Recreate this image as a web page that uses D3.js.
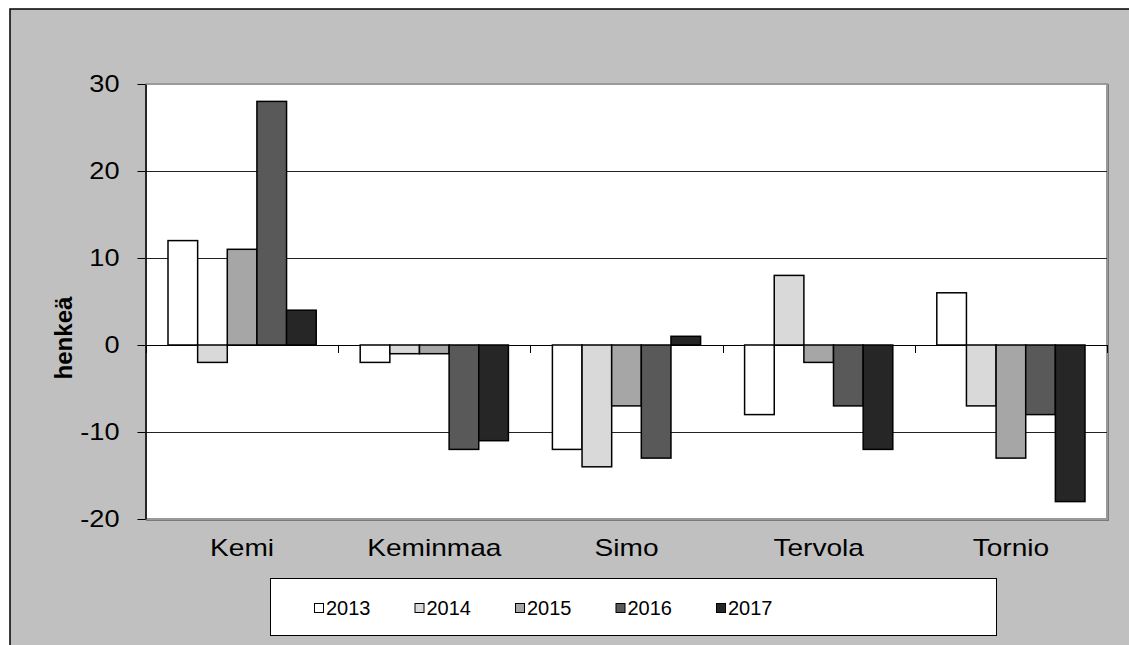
<!DOCTYPE html>
<html>
<head>
<meta charset="utf-8">
<script src="https://cdn.jsdelivr.net/npm/d3@7"></script>
<style>
  body { margin: 0; background: #fff; }
  text { font-family: "Liberation Sans", Arial, sans-serif; fill: #000; }
</style>
</head>
<body>
<svg width="1129" height="645"></svg>
<script>
var kunnat = ["Kemi", "Keminmaa", "Simo", "Tervola", "Tornio"];
var vuodet = ["2013", "2014", "2015", "2016", "2017"];
var v2013 = [12, -2, -12, -8, 6];
var v2014 = [-2, -1, -14, 8, -7];
var v2015 = [11, -1, -7, -2, -13];
var v2016 = [28, -12, -13, -7, -8];
var v2017 = [4, -11, 1, -12, -18];
var yTicks = [-20, -10, 0, 10, 20, 30];
var colors = ["#ffffff", "#d9d9d9", "#a6a6a6", "#595959", "#262626"];

var series = [v2013, v2014, v2015, v2016, v2017];
var data = kunnat.map(function(k, i) {
  return { kunta: k, values: vuodet.map(function(v, j) { return { year: v, value: series[j][i] }; }) };
});

var svg = d3.select("svg");

// outer frame
svg.append("rect").attr("x", 10).attr("y", 9).attr("width", 1125).attr("height", 645)
  .attr("fill", "#c0c0c0").attr("stroke", "#000").attr("stroke-width", 1.5);

var pLeft = 146, pTop = 84, pRight = 1107, pBottom = 519;

var x0 = d3.scaleBand().domain(kunnat).range([pLeft, pRight]);
var x1 = d3.scaleBand().domain(vuodet).range([22, x0.bandwidth() - 22]);
var y = d3.scaleLinear().domain([-20, 30]).range([pBottom, pTop]);

// plot area
svg.append("rect").attr("x", pLeft + 1).attr("y", pTop + 1).attr("width", pRight - pLeft).attr("height", pBottom - pTop)
  .attr("fill", "none").attr("stroke", "#7a7a7a").attr("stroke-width", 2);
svg.append("rect").attr("x", pLeft).attr("y", pTop).attr("width", pRight - pLeft).attr("height", pBottom - pTop)
  .attr("fill", "#fff").attr("stroke", "#9a9a9a").attr("stroke-width", 2);

// gridlines
svg.append("g").selectAll("line")
  .data(yTicks.filter(function(t) { return t > -20 && t < 30; }))
  .enter().append("line")
    .attr("x1", pLeft).attr("x2", pRight)
    .attr("y1", function(d) { return Math.round(y(d)) + 0.5; })
    .attr("y2", function(d) { return Math.round(y(d)) + 0.5; })
    .attr("stroke", function(d) { return d === 0 ? "#000" : "#222"; })
    .attr("stroke-width", 1);

// bars
var groups = svg.append("g").selectAll("g")
  .data(data)
  .enter().append("g")
    .attr("transform", function(d) { return "translate(" + x0(d.kunta) + ",0)"; });

groups.selectAll("rect")
  .data(function(d) { return d.values; })
  .enter().append("rect")
    .attr("x", function(d) { return x1(d.year); })
    .attr("width", x1.bandwidth())
    .attr("y", function(d) { return y(Math.max(0, d.value)); })
    .attr("height", function(d) { return Math.abs(y(d.value) - y(0)); })
    .attr("fill", function(d, i) { return colors[i]; })
    .attr("stroke", "#000")
    .attr("stroke-width", 1.5);

// category boundary ticks on zero line
var bounds = kunnat.map(function(k) { return x0(k); }).concat([pRight]);
svg.append("g").selectAll("line")
  .data(bounds)
  .enter().append("line")
    .attr("x1", function(d) { return Math.round(d) + 0.5; })
    .attr("x2", function(d) { return Math.round(d) + 0.5; })
    .attr("y1", y(0)).attr("y2", y(0) + 8)
    .attr("stroke", "#000");

// y axis
var yAxis = svg.append("g")
  .attr("transform", "translate(" + (pLeft - 0.5) + ",0)")
  .call(d3.axisLeft(y).tickValues(yTicks).tickSize(8).tickSizeOuter(0).tickPadding(18)
    .tickFormat(function(d) { return String(d); }));
yAxis.select(".domain").attr("stroke", "#000").attr("stroke-width", 1.5);
yAxis.selectAll(".tick line").attr("stroke", "#000");
yAxis.selectAll("text")
  .style("font-family", "Liberation Sans, Arial, sans-serif")
  .style("font-size", "23px")
  .attr("fill", "#000")
  .each(function() {
    var len = this.getComputedTextLength();
    d3.select(this).attr("textLength", len * 1.18).attr("lengthAdjust", "spacingAndGlyphs");
  });

// x axis labels
var xAxis = svg.append("g")
  .attr("transform", "translate(0," + pBottom + ")")
  .call(d3.axisBottom(x0).tickSize(0).tickPadding(20));
xAxis.select(".domain").remove();
xAxis.selectAll("text")
  .style("font-family", "Liberation Sans, Arial, sans-serif")
  .style("font-size", "24px")
  .attr("fill", "#000")
  .each(function() {
    var len = this.getComputedTextLength();
    d3.select(this).attr("textLength", len * 1.17).attr("lengthAdjust", "spacingAndGlyphs");
  });

// y label
var ylab = svg.append("text")
  .attr("transform", "translate(72,338) rotate(-90)")
  .attr("text-anchor", "middle")
  .style("font-size", "24px")
  .style("font-weight", "bold")
  .text("henkeä");
ylab.attr("textLength", 83).attr("lengthAdjust", "spacingAndGlyphs");

// legend
var legend = svg.append("g");
legend.append("rect").attr("x", 270.5).attr("y", 578.5).attr("width", 726).attr("height", 57)
  .attr("fill", "#fff").attr("stroke", "#000").attr("stroke-width", 1);
var item = legend.selectAll("g.item")
  .data(vuodet)
  .enter().append("g")
    .attr("class", "item")
    .attr("transform", function(d, i) { return "translate(" + (314 + i * 100.5) + ",0)"; });
item.append("rect")
  .attr("x", 0.5).attr("y", 603.5).attr("width", 9).attr("height", 9)
  .attr("fill", function(d, i) { return colors[i]; })
  .attr("stroke", "#000").attr("stroke-width", 1);
item.append("text")
  .attr("x", 12).attr("y", 614.5)
  .style("font-size", "20px")
  .text(function(d) { return d; });
</script>
</body>
</html>
